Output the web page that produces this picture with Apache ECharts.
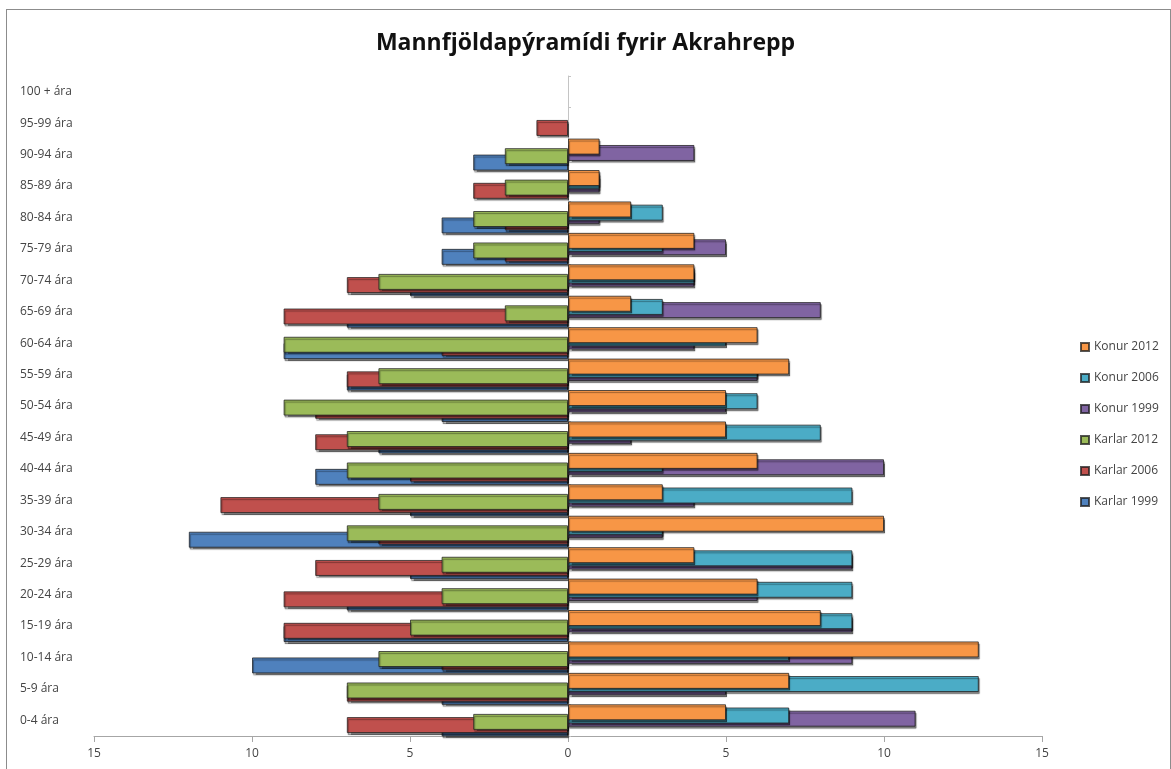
<!DOCTYPE html>
<html>
<head>
<meta charset="utf-8">
<title>Mannfjöldapýramídi fyrir Akrahrepp</title>
<script src="https://cdn.jsdelivr.net/npm/echarts@6/dist/echarts.min.js"></script>
<style>
  html, body { margin: 0; padding: 0; background: #fff; }
  #app { width: 1171px; height: 769px; }
  #frame {
    position: absolute; left: 6px; top: 9px; width: 1163px; height: 780px;
    border: 1px solid #8c8c8c; pointer-events: none;
  }
</style>
</head>
<body>
<div id="app"></div>
<div id="frame"></div>
<script>
// age groups, bottom to top
const categories = ['0-4 ára', '5-9 ára', '10-14 ára', '15-19 ára', '20-24 ára', '25-29 ára',
  '30-34 ára', '35-39 ára', '40-44 ára', '45-49 ára', '50-54 ára', '55-59 ára', '60-64 ára',
  '65-69 ára', '70-74 ára', '75-79 ára', '80-84 ára', '85-89 ára', '90-94 ára', '95-99 ára', '100 + ára'];

// men (drawn to the left)
const karlar1999 = [4, 4, 10, 9, 7, 5, 12, 5, 8, 6, 4, 7, 9, 7, 5, 4, 4, 0, 3, 0, 0];
const karlar2006 = [7, 7, 4, 9, 9, 8, 6, 11, 5, 8, 8, 7, 4, 9, 7, 2, 2, 3, 0, 1, 0];
const karlar2012 = [3, 7, 6, 5, 4, 4, 7, 6, 7, 7, 9, 6, 9, 2, 6, 3, 3, 2, 2, 0, 0];
// women (drawn to the right)
const konur1999 = [11, 5, 9, 9, 6, 9, 3, 4, 10, 2, 5, 6, 4, 8, 4, 5, 1, 1, 4, 0, 0];
const konur2006 = [7, 13, 7, 9, 9, 9, 3, 9, 3, 8, 6, 6, 5, 3, 4, 3, 3, 1, 0, 0, 0];
const konur2012 = [5, 7, 13, 8, 6, 4, 10, 3, 6, 5, 5, 7, 6, 2, 4, 4, 2, 1, 1, 0, 0];

const legendOrder = ['Konur 2012', 'Konur 2006', 'Konur 1999', 'Karlar 2012', 'Karlar 2006', 'Karlar 1999'];

// first series sits highest in each row; z keeps the upper bar painted over the one below
function barSeries(name, values, color, sign, z) {
  return {
    name: name,
    type: 'bar',
    z: z,
    barWidth: 16,
    barGap: '-80%',
    data: values.map((v) => (v === 0 ? '-' : sign * v)),
    itemStyle: {
      color: color,
      borderColor: 'rgba(30,30,30,0.75)',
      borderWidth: 1,
      shadowColor: 'rgba(0,0,0,0.5)',
      shadowOffsetX: 1,
      shadowOffsetY: 2,
      shadowBlur: 1,
    },
  };
}

const eChart = echarts.init(document.getElementById('app'));

const option = {
  backgroundColor: 'transparent',
  animation: false,
  textStyle: { fontFamily: 'Open Sans, DejaVu Sans, sans-serif' },
  title: {
    text: 'Mannfjöldapýramídi fyrir Akrahrepp',
    left: 'center',
    top: 27,
    textStyle: {
      fontSize: 23,
      fontWeight: 'bold',
      color: '#111',
      fontFamily: 'Open Sans, DejaVu Sans, sans-serif',
    },
  },
  legend: {
    data: legendOrder,
    orient: 'vertical',
    left: 1075,
    top: 336,
    itemWidth: 8,
    itemHeight: 8,
    itemGap: 19,
    icon: 'rect',
    textStyle: { fontSize: 12, color: '#444' },
  },
  grid: {
    left: 94,
    right: 129,
    top: 76,
    bottom: 33,
  },
  xAxis: {
    type: 'value',
    min: -15,
    max: 15,
    interval: 5,
    axisLine: { show: true, lineStyle: { color: '#a6a6a6' } },
    axisTick: { show: true, length: 6, lineStyle: { color: '#a6a6a6' } },
    splitLine: { show: false },
    axisLabel: {
      color: '#444',
      fontSize: 12,
      margin: 12,
      formatter: (v) => Math.abs(v),
    },
  },
  yAxis: [
    {
      type: 'category',
      data: categories,
      position: 'left',
      axisLine: { show: false, onZero: false },
      axisTick: { show: false },
      axisLabel: {
        align: 'left',
        margin: 74,
        color: '#444',
        fontSize: 12,
      },
    },
    {
      type: 'category',
      data: categories,
      position: 'left',
      axisLine: { show: true, onZero: true, lineStyle: { color: '#c4c4c4' } },
      axisTick: { show: true, inside: true, length: 3, lineStyle: { color: '#c4c4c4' } },
      axisLabel: { show: false },
    },
  ],
  series: [
    barSeries('Konur 2012', konur2012, '#f79646', 1, 8),
    barSeries('Konur 2006', konur2006, '#4bacc6', 1, 7),
    barSeries('Konur 1999', konur1999, '#8064a2', 1, 6),
    barSeries('Karlar 2012', karlar2012, '#9bbb59', -1, 5),
    barSeries('Karlar 2006', karlar2006, '#c0504d', -1, 4),
    barSeries('Karlar 1999', karlar1999, '#4f81bd', -1, 3),
  ],
};
eChart.setOption(option);
</script>
</body>
</html>
